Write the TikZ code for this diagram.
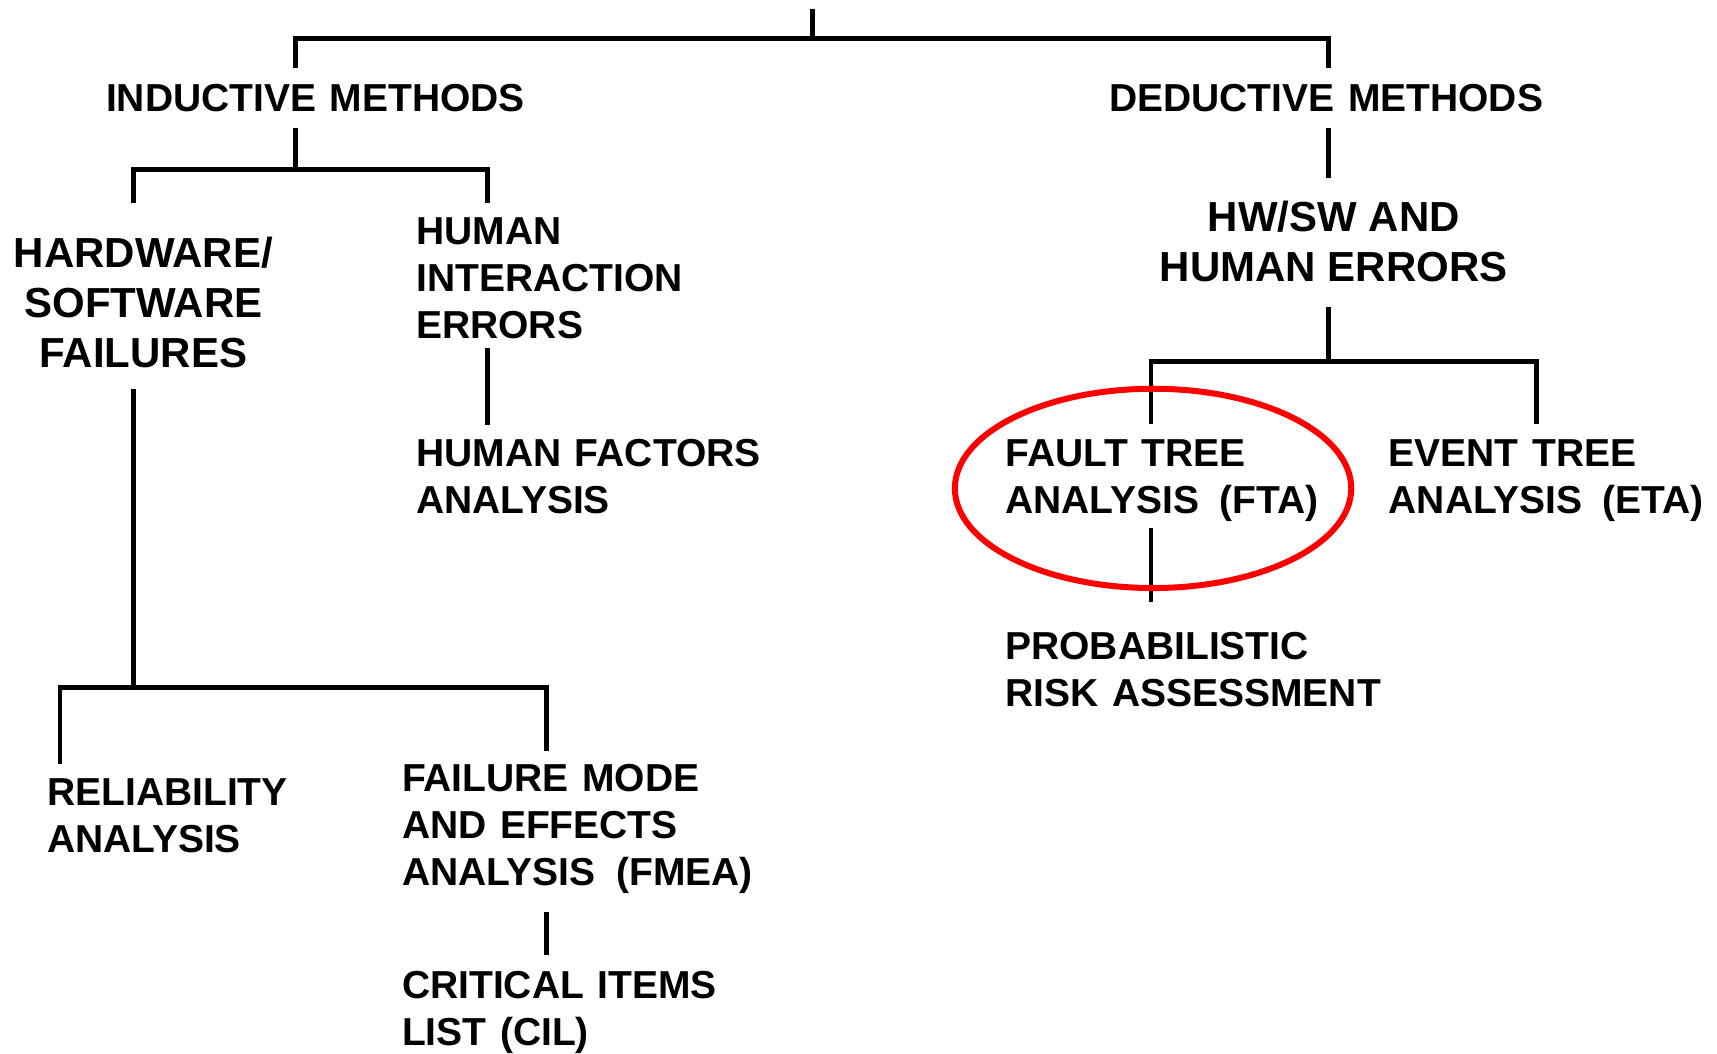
\documentclass[tikz,border=0pt]{standalone}
\usepackage{fontspec}
\setmainfont{Liberation Sans}
\newfontfamily\smallfam[WordSpace=1.25]{Liberation Sans}
\begin{document}
\begin{tikzpicture}[x=1.095pt,y=-1.095pt,
  conn/.style={line width=4.5pt},
  lbl/.style={inner sep=0pt,font=\smallfam\bfseries\fontsize{39pt}{47pt}\selectfont,align=left},
  biglbl/.style={inner sep=0pt,font=\bfseries\fontsize{42pt}{50.4pt}\selectfont,align=center},
  ring/.style={draw=red,line width=6pt}]
\useasboundingbox (0,0) rectangle (1568,962);
% text nodes
\node[lbl,anchor=north] (ind) at (288,77) {INDUCTIVE METHODS};
\node[lbl,anchor=north] (ded) at (1211,77) {DEDUCTIVE METHODS};
\node[biglbl,anchor=north] (hw) at (131,216) {HARDWARE/\\SOFTWARE\\FAILURES};
\node[lbl,anchor=north west] (hie) at (380,199) {HUMAN\\INTERACTION\\ERRORS};
\node[lbl,anchor=north west] (hfa) at (380,401) {HUMAN FACTORS\\ANALYSIS};
\node[lbl,anchor=north west] (rel) at (43,711) {RELIABILITY\\ANALYSIS};
\node[lbl,anchor=north west] (fmea) at (367,698) {FAILURE MODE\\AND EFFECTS\\ANALYSIS\hspace{7pt} (FMEA)};
\node[lbl,anchor=north west] (cil) at (367,887) {CRITICAL ITEMS\\LIST (CIL)};
\node[biglbl,anchor=north] (hs) at (1218,183) {HW/SW AND\\HUMAN ERRORS};
\node[lbl,anchor=north west] (fta) at (918,401) {FAULT TREE\\ANALYSIS\hspace{7pt} (FTA)};
\node[lbl,anchor=north west] (eta) at (1268,401) {EVENT TREE\\ANALYSIS\hspace{7pt} (ETA)};
\node[lbl,anchor=north west] (pra) at (918,577) {PROBABILISTIC\\RISK ASSESSMENT};
% connector end points
\coordinate (root) at (742,8);
\coordinate (rootJ) at (742,35);
\coordinate (indT) at (270,62);
\coordinate (dedT) at (1213,62);
\coordinate (indB) at (270,117);
\coordinate (indJ) at (270,155);
\coordinate (hwT) at (122,185);
\coordinate (hieT) at (445,185);
\coordinate (hieB) at (445,318);
\coordinate (hfaT) at (445,388);
\coordinate (hwB) at (122,355);
\coordinate (hwJ) at (122,628);
\coordinate (relT) at (55,698);
\coordinate (fmT) at (499,686);
\coordinate (fmB) at (499,833);
\coordinate (cilT) at (499,872);
\coordinate (dedB) at (1213,117);
\coordinate (hsT) at (1213,163);
\coordinate (hsB) at (1213,280);
\coordinate (hsJ) at (1213,330);
\coordinate (ftaT) at (1051,387);
\coordinate (etaT) at (1403,387);
\coordinate (ftaB) at (1051,482);
\coordinate (praT) at (1051,550);
% connectors
\draw[conn] (root) -- (rootJ);
\draw[conn] (indT) |- (rootJ) -| (dedT);
\draw[conn] (indB) -- (indJ);
\draw[conn] (hwT) |- (indJ) -| (hieT);
\draw[conn] (hieB) -- (hfaT);
\draw[conn] (hwB) -- (hwJ);
\draw[conn] (relT) |- (hwJ) -| (fmT);
\draw[conn] (fmB) -- (cilT);
\draw[conn] (dedB) -- (hsT);
\draw[conn] (hsB) -- (hsJ);
\draw[conn] (ftaT) |- (hsJ) -| (etaT);
\draw[conn] (ftaB) -- (praT);
% highlight ring
\draw[ring] (1053,446) ellipse [x radius=181*1.095pt, y radius=91*1.095pt];
\end{tikzpicture}
\end{document}
